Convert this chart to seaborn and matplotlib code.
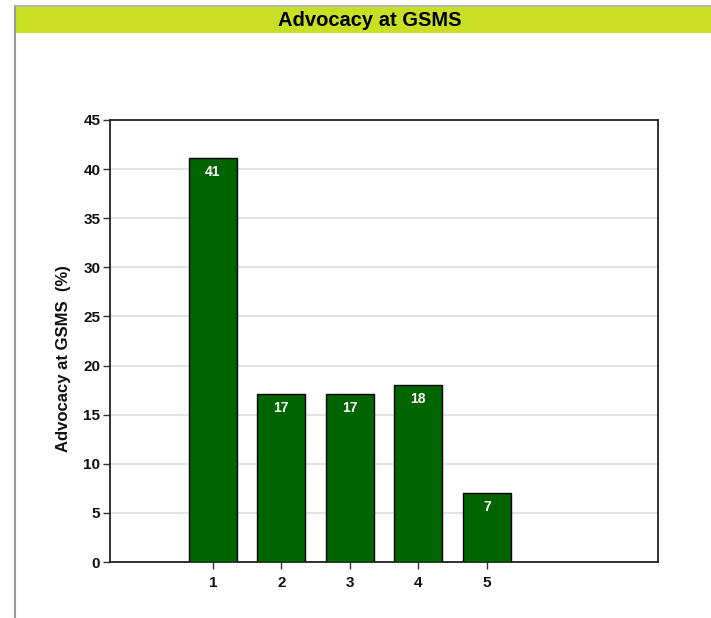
import matplotlib
matplotlib.use("Agg")
import matplotlib.pyplot as plt
import seaborn as sns
import pandas as pd
from matplotlib.patches import Rectangle
from matplotlib.lines import Line2D

categories = [1, 2, 3, 4, 5]
values = [41.1, 17.1, 17.1, 18.0, 7.0]
labels = ["41", "17", "17", "18", "7"]
title = "Advocacy at GSMS"
ylabel = "Advocacy at GSMS  (%)"
yticks = [0, 5, 10, 15, 20, 25, 30, 35, 40, 45]

sns.set_style("white")
plt.rcParams["font.family"] = ["Liberation Sans", "DejaVu Sans"]

df = pd.DataFrame({"cat": categories, "val": values})

fig = plt.figure(figsize=(7.11, 6.18), dpi=100)
W, H = 711, 618

# outer frame lines and title bar
fig.add_artist(Line2D([15 / W, 15 / W], [0, 1 - 6 / H], transform=fig.transFigure,
                      color="#999999", lw=1.5))
fig.add_artist(Line2D([15 / W, 1], [1 - 6 / H, 1 - 6 / H], transform=fig.transFigure,
                      color="#aaaaaa", lw=1.2))
fig.add_artist(Rectangle((16 / W, 1 - 33 / H), 1 - 16 / W, 26 / H, transform=fig.transFigure,
                         facecolor="#c8df24", edgecolor="none"))
fig.text(370 / W, 1 - 20 / H, title, ha="center", va="center",
         fontsize=14.5, fontweight="bold", color="black")

ax = fig.add_axes([110 / W, 1 - 562 / H, 548 / W, 442 / H])
sns.barplot(data=df, x="cat", y="val", native_scale=True, width=0.7,
            color="#006400", saturation=1, edgecolor="black", linewidth=1, ax=ax, zorder=3)

ax.set_xlim(-0.5, 7.5)
ax.set_ylim(0, 45)
ax.set_yticks(yticks)
ax.set_xticks(categories)
ax.set_xticklabels([str(c) for c in categories])
ax.yaxis.grid(True, color="#dddddd", lw=1.2, zorder=0)
ax.set_axisbelow(True)
for s in ax.spines.values():
    s.set_color("#222222")
    s.set_linewidth(1.3)
    s.set_visible(True)
ax.tick_params(axis="both", direction="out", length=5, width=1, color="#333333",
               labelsize=11, labelcolor="#111111", bottom=True, left=True)
ax.tick_params(axis="x", pad=5)
ax.tick_params(axis="y", pad=2)
for t in ax.get_xticklabels() + ax.get_yticklabels():
    t.set_fontweight("bold")
ax.set_xlabel("")
ax.set_ylabel(ylabel, fontsize=12, fontweight="bold", color="#111111", labelpad=8)
ax.yaxis.set_label_coords(-0.072, 0.46)

for c, v, lab in zip(categories, values, labels):
    ax.annotate(lab, xy=(c, v), xytext=(0, -5), textcoords="offset points",
                ha="center", va="top", color="white", fontsize=10, fontweight="bold", zorder=4)

fig.savefig("out.png", dpi=100, facecolor="white")
